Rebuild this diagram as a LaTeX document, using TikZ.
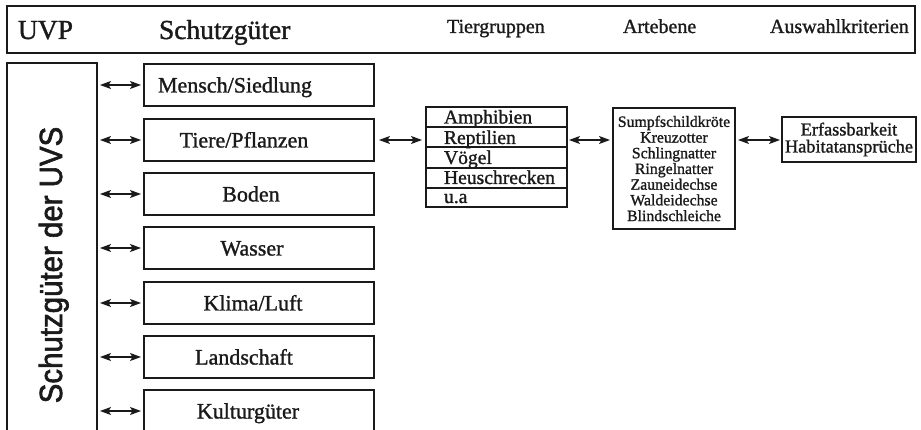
\documentclass[tikz,border=0pt]{standalone}
\usepackage{fontspec}
\setmainfont{Liberation Serif}[FakeBold=1.2]
\newfontfamily\helv{Liberation Sans}[FakeBold=2]
\usetikzlibrary{arrows.meta}
\definecolor{ink}{HTML}{1A1A1A}
\tikzset{
  box/.style={draw=ink, line width=1.1pt, inner sep=0pt, outer sep=0pt, anchor=north west},
  lbl/.style={inner sep=0pt, outer sep=0pt, text=ink},
  hbig/.style={lbl, anchor=base west, font=\fontsize{27.5}{30}\selectfont},
  hsmall/.style={lbl, anchor=base west, font=\fontsize{20}{22}\selectfont},
  sgtext/.style={lbl, anchor=base, font=\fontsize{22}{24}\selectfont},
  tgtext/.style={lbl, anchor=base west, font=\fontsize{19.6}{21}\selectfont},
  dar/.style={draw=ink, line width=1.1pt,
    {Stealth[length=11pt,width=8pt,inset=2.5pt]}-{Stealth[length=11pt,width=8pt,inset=2.5pt]}},
}
\begin{document}
\begin{tikzpicture}[x=1pt,y=-1pt]
\useasboundingbox (0,0) rectangle (921,430);
\clip (0,0) rectangle (921,430);
\fill[white] (0,0) rectangle (921,430);

% header
\node[box, minimum width=908, minimum height=47] (head) at (7,6) {};
\node[hbig] (uvp) at (18,39) {UVP};
\node[hbig] (sgh) at (159,39) {Schutzgüter};
\node[hsmall] (tgh) at (447,33) {Tiergruppen};
\node[hsmall] (arh) at (623,33) {Artebene};
\node[hsmall] (awh) at (770,33) {Auswahlkriterien};

% left tall box
\node[box, minimum width=90, minimum height=400] (uvs) at (7,63) {};
\node[lbl, rotate=90, anchor=base, font=\helv\fontsize{32}{34}\selectfont] (uvstext) at (62,265)
  {\scalebox{0.92}[1]{Schutzgüter der UVS}};

% Schutzgüter boxes
\node[box, minimum width=230, minimum height=42] (s1) at (144,64) {};
\node[box, minimum width=230, minimum height=42] (s2) at (144,119) {};
\node[box, minimum width=230, minimum height=42] (s3) at (144,173) {};
\node[box, minimum width=230, minimum height=42] (s4) at (144,227) {};
\node[box, minimum width=230, minimum height=42] (s5) at (144,282) {};
\node[box, minimum width=230, minimum height=42] (s6) at (144,336) {};
\node[box, minimum width=230, minimum height=42] (s7) at (144,390) {};

\node[sgtext] (t1) at (235,92.5) {Mensch/Siedlung};
\node[sgtext] (t2) at (244,147.5) {Tiere/Pflanzen};
\node[sgtext] (t3) at (251,201.5) {Boden};
\node[sgtext] (t4) at (252,255.5) {Wasser};
\node[sgtext] (t5) at (253,310.5) {Klima/Luft};
\node[sgtext] (t6) at (244,364.5) {Landschaft};
\node[sgtext] (t7) at (248,418.5) {Kulturgüter};

\foreach \i in {1,...,7}{
  \draw[dar, shorten <=3pt, shorten >=3pt] (uvs.east |- s\i.west) -- (s\i.west);
}

% Tiergruppen table
\node[box, minimum width=141, minimum height=20] (g1) at (426,107) {};
\node[box, minimum width=141, minimum height=20] (g2) at (426,127) {};
\node[box, minimum width=141, minimum height=21] (g3) at (426,147) {};
\node[box, minimum width=141, minimum height=20] (g4) at (426,168) {};
\node[box, minimum width=141, minimum height=19] (g5) at (426,188) {};
\node[tgtext] (gt1) at (444,123.5) {Amphibien};
\node[tgtext] (gt2) at (444,144) {Reptilien};
\node[tgtext] (gt3) at (444,164) {Vögel};
\node[tgtext] (gt4) at (444,184) {Heuschrecken};
\node[tgtext] (gt5) at (444,203) {u.a};

% Artebene
\node[box, anchor=center, minimum width=122, minimum height=121, align=center,
  font=\fontsize{15.8}{15.7}\selectfont, text=ink] (art) at (674,168.5)
  {Sumpfschildkröte\\Kreuzotter\\Schlingnatter\\Ringelnatter\\Zauneidechse\\Waldeidechse\\Blindschleiche};

% Auswahlkriterien
\node[box, anchor=center, minimum width=134, minimum height=45, align=center,
  font=\fontsize{18.3}{17}\selectfont, text=ink] (aw) at (849,139.5)
  {Erfassbarkeit\\Habitatansprüche};

% connectors
\coordinate (ay) at (0,140);
\draw[dar, shorten <=5pt, shorten >=4pt] (s2.east |- ay) -- (g2.west |- ay);
\draw[dar, shorten <=2pt, shorten >=3pt] (g2.east |- ay) -- (art.west |- ay);
\draw[dar, shorten <=3pt, shorten >=2pt] (art.east |- ay) -- (aw.west |- ay);
\end{tikzpicture}
\end{document}
